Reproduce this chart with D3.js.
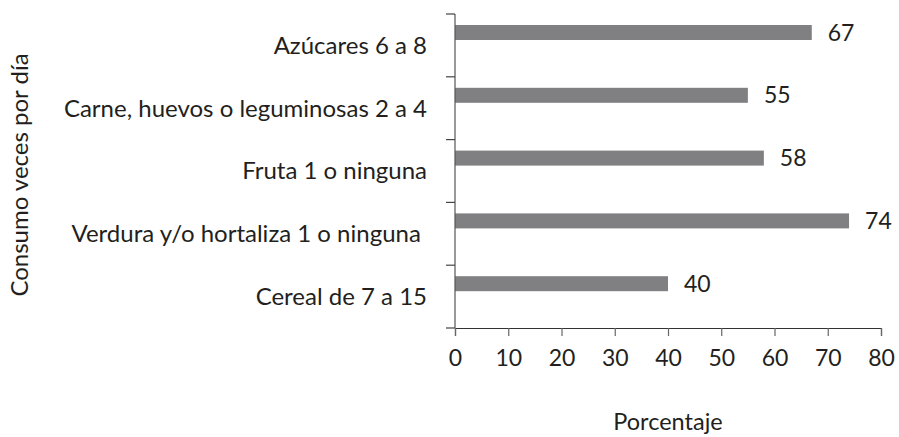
<!DOCTYPE html>
<html>
<head>
<meta charset="utf-8">
<script src="https://cdn.jsdelivr.net/npm/d3@7"></script>
<style>
  body { margin: 0; background: #fff; }
  svg { display: block; }
  text { font-family: Lato, "Open Sans", sans-serif; fill: #231f20; white-space: pre; }
</style>
</head>
<body>
<div id="chart"></div>
<script>
// categories, top to bottom
const categories = [
  "Azúcares 6 a 8",
  "Carne, huevos o leguminosas 2 a 4",
  "Fruta 1 o ninguna",
  "Verdura y/o hortaliza 1 o ninguna ",
  "Cereal de 7 a 15"
]
const values = [67, 55, 58, 74, 40]
const xTicks = [0, 10, 20, 30, 40, 50, 60, 70, 80]

const width = 899, height = 437
const margin = { top: 14, right: 18, bottom: 109, left: 455 }

const svg = d3.select("#chart").append("svg")
  .attr("width", width)
  .attr("height", height)

const x = d3.scaleLinear()
  .domain([0, 80])
  .range([margin.left, width - margin.right])

const y = d3.scaleBand()
  .domain(categories)
  .range([margin.top, height - margin.bottom])

const barH = 15

// bars sit in the upper part of each band
const barY = d => y(d) + 11

svg.append("g")
  .selectAll("rect")
  .data(categories)
  .join("rect")
    .attr("x", x(0))
    .attr("y", d => barY(d))
    .attr("width", (d, i) => x(values[i]) - x(0))
    .attr("height", barH)
    .attr("fill", "#808083")

// value labels
svg.append("g")
  .selectAll("text")
  .data(categories)
  .join("text")
    .attr("x", (d, i) => x(values[i]) + 16)
    .attr("y", d => barY(d) + barH / 2)
    .attr("dy", "0.35em")
    .style("font-size", "23px")
    .text((d, i) => values[i])

// y axis
const yAxis = svg.append("g")
  .attr("transform", `translate(${x(0)},0)`)

yAxis.append("line")
  .attr("y1", y.range()[0]).attr("y2", y.range()[1])
  .attr("stroke", "#555").attr("stroke-width", 1.2)

const yTickPos = categories.map(d => y(d)).concat([y.range()[1]])
yAxis.selectAll(".tk")
  .data(yTickPos)
  .join("line")
    .attr("class", "tk")
    .attr("x1", -9).attr("x2", 0)
    .attr("y1", d => d).attr("y2", d => d)
    .attr("stroke", "#444").attr("stroke-width", 1.2)

yAxis.selectAll(".lbl")
  .data(categories)
  .join("text")
    .attr("class", "lbl")
    .attr("x", -28)
    .attr("y", d => y(d) + y.bandwidth() / 2)
    .attr("dy", "0.35em")
    .attr("text-anchor", "end")
    .style("font-size", "24px")
    .text(d => d)

// x axis
const xAxis = svg.append("g")
  .attr("transform", `translate(0,${y.range()[1]})`)
  .call(d3.axisBottom(x).tickValues(xTicks).tickSize(8).tickPadding(14))

xAxis.select(".domain").attr("stroke", "#333").attr("stroke-width", 1.2)
xAxis.selectAll(".tick line").attr("stroke", "#666").attr("stroke-width", 1.2)
xAxis.selectAll(".tick text")
  .style("font-family", "Lato, 'Open Sans', sans-serif")
  .style("font-size", "23px")
  .attr("fill", "#231f20")

// axis titles
svg.append("text")
  .attr("x", x(40))
  .attr("y", 430)
  .attr("text-anchor", "middle")
  .style("font-size", "23.5px")
  .text("Porcentaje")

svg.append("text")
  .attr("transform", "translate(28,175) rotate(-90)")
  .attr("text-anchor", "middle")
  .style("font-size", "24px")
  .text("Consumo veces por día")
</script>
</body>
</html>
